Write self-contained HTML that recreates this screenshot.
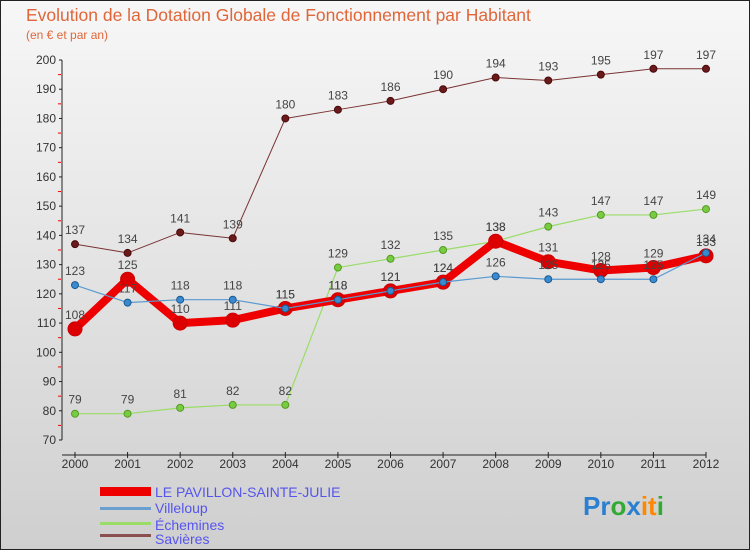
<!DOCTYPE html>
<html><head><meta charset="utf-8"><style>
body{margin:0;width:750px;height:550px;overflow:hidden;font-family:"Liberation Sans",sans-serif}
</style></head><body>
<svg id="c" width="750" height="550" xmlns="http://www.w3.org/2000/svg">
<defs><linearGradient id="bg" x1="0" y1="0" x2="0" y2="1"><stop offset="0" stop-color="#f7f7f7"/><stop offset="1" stop-color="#cfcfcf"/></linearGradient></defs>
<rect x="0.5" y="0.5" width="749" height="549" fill="url(#bg)" stroke="#222"/>
<text x="26" y="21" font-size="17.5" fill="#e0663a">Evolution de la Dotation Globale de Fonctionnement par Habitant</text>
<text x="26" y="39" font-size="12" fill="#e0663a">(en € et par an)</text>
<g id="axes"></g><g id="series"></g>
<g>
<rect x="100" y="487" width="51" height="9" fill="#e00"/>
<text x="155" y="497" font-size="14" fill="#5555ee">LE PAVILLON-SAINTE-JULIE</text>
<rect x="100" y="507" width="51" height="3" fill="#6a9fcf"/>
<text x="155" y="513" font-size="14" fill="#5555ee">Villeloup</text>
<rect x="100" y="522" width="51" height="3" fill="#99dd66"/>
<text x="155" y="530" font-size="14" fill="#5555ee">Échemines</text>
<rect x="100" y="534" width="51" height="3" fill="#8a5050"/>
<text x="155" y="544" font-size="14" fill="#5555ee">Savières</text>
</g>
<g font-size="26" font-weight="bold">
<text x="583" y="515"><tspan fill="#2a7fd0">Pr</tspan><tspan fill="#33aa33">o</tspan><tspan fill="#2a7fd0">x</tspan><tspan fill="#ff8800">it</tspan><tspan fill="#33aa33">i</tspan></text>
</g>
</svg>
<script>
const years=[2000,2001,2002,2003,2004,2005,2006,2007,2008,2009,2010,2011,2012];
const yTicks=[70,80,90,100,110,120,130,140,150,160,170,180,190,200];
const savieres=[137,134,141,139,180,183,186,190,194,193,195,197,197];
const echemines=[79,79,81,82,82,129,132,135,138,143,147,147,149];
const villeloup=[123,117,118,118,115,118,121,124,126,125,125,125,134];
const pavillon=[108,125,110,111,115,118,121,124,138,131,128,129,133];
const NS="http://www.w3.org/2000/svg";
const xs=i=>75+i*(706-75)/12;
const ys=v=>440-(v-70)*(380/130);
function el(t,a,p){const e=document.createElementNS(NS,t);for(const k in a)e.setAttribute(k,a[k]);p.appendChild(e);return e;}
const ax=document.getElementById('axes');
const l1=el('line',{x1:62,y1:60,x2:62,y2:440,stroke:'#222'},ax);

const l2=el('line',{x1:62,y1:455,x2:706,y2:455,stroke:'#222'},ax);

yTicks.forEach(v=>{
  el('line',{x1:59,x2:62,y1:ys(v),y2:ys(v),stroke:'#222'},ax);
  const t=el('text',{x:56,y:ys(v)+4,'font-size':12,fill:'#333','text-anchor':'end'},ax);
  
  
  t.textContent=v;
  if(v<200){el('line',{x1:58,x2:61,y1:ys(v+5),y2:ys(v+5),stroke:'#e00'},ax);}
});
years.forEach((y,i)=>{
  el('line',{x1:xs(i),x2:xs(i),y1:452,y2:458,stroke:'#222'},ax);
  const t=el('text',{x:xs(i),y:468,'font-size':12,fill:'#333','text-anchor':'middle'},ax);
  
  
  t.textContent=y;
});
const sg=document.getElementById('series');
function draw(name,data,color,w,dot,r,dotStroke){
  const g=el('g',{},sg);
  
  
  const p=el('polyline',{points:data.map((v,i)=>xs(i)+','+ys(v)).join(' '),fill:'none',stroke:color,'stroke-width':w,'stroke-linejoin':'round'},g);
  
  
  data.forEach((v,i)=>{
    const c=el('circle',{cx:xs(i),cy:ys(v),r:r,fill:dot,stroke:dotStroke,'stroke-width':1},g);
    
    
    const t=el('text',{x:xs(i),y:ys(v)-10,'font-size':12,fill:'#444','text-anchor':'middle'},g);
    
    
    t.textContent=v;
  });
}
draw('savieres',savieres,'#7a3333',1,'#6a1a1a',3.5,'#4a0a0a');
draw('echemines',echemines,'#99dd66',1.2,'#77cc44',3.5,'#559922');
draw('pavillon',pavillon,'#ee0000',8,'#dd0000',7,'#cc0000');
draw('villeloup',villeloup,'#5a9ad0',1.2,'#3a8ad0',3.5,'#1a5a90');
</script>
</body></html>
